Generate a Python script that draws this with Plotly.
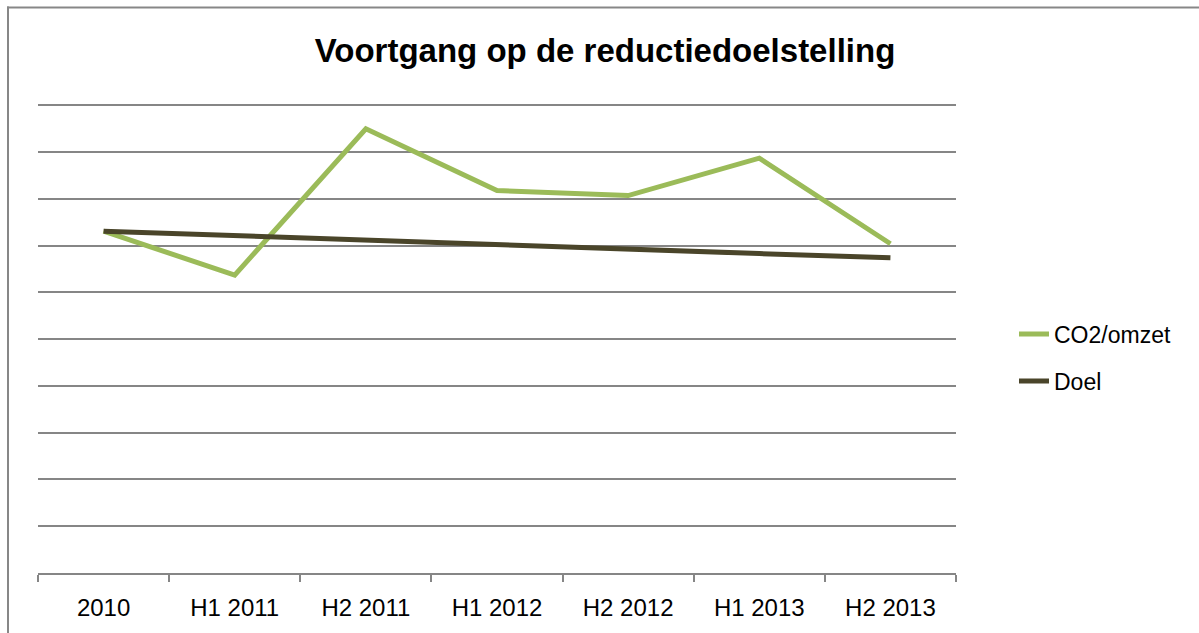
import plotly.graph_objects as go

categories = ["2010", "H1 2011", "H2 2011", "H1 2012", "H2 2012", "H1 2013", "H2 2013"]
co2_omzet = [7.31, 6.37, 9.50, 8.18, 8.07, 8.87, 7.04]
doel = [7.31, 7.21, 7.12, 7.02, 6.93, 6.83, 6.74]

W, H = 1199, 633
YMAX = 10.2
# target screen coords: axis bottom at 573, value 10 at 105
UNIT = (573 - 105) / 10.0
SX0, SX1, SY1 = 38, 956, 573
SY0 = SY1 - YMAX * UNIT
L, T = SX0, SY0
R, B = W - SX1, H - SY1
pw, ph = SX1 - SX0, SY1 - SY0


def px_x(x):
    return (x - SX0) / pw


def px_y(y):
    return (SY1 - y) / ph


border = dict(color="#878787", width=2)

fig = go.Figure()
fig.add_trace(go.Scatter(x=categories, y=co2_omzet, mode="lines", name="CO2/omzet",
                         line=dict(color="#9BBB59", width=5), legendgroup="a"))
fig.add_trace(go.Scatter(x=categories, y=doel, mode="lines", name="Doel",
                         line=dict(color="#4A452A", width=5), legendgroup="b"))

fig.update_layout(
    width=W, height=H,
    margin=dict(l=L, r=R, t=T, b=B),
    paper_bgcolor="white", plot_bgcolor="white",
    font=dict(family="Liberation Sans, Arial, sans-serif", color="black"),
    title=dict(text="<b>Voortgang op de reductiedoelstelling</b>", x=605 / W, xref="container",
               xanchor="center", y=1 - 50 / H, yref="container", yanchor="middle",
               font=dict(size=33, color="black")),
    xaxis=dict(type="category", range=[-0.5, 6.5], showgrid=False, showline=True,
               linecolor="#868686", linewidth=1.5, ticks="outside", tickson="boundaries",
               ticklen=7, tickcolor="#868686", tickwidth=1.5, ticklabelstandoff=12,
               tickfont=dict(size=24, color="black")),
    yaxis=dict(range=[0, YMAX], tickvals=list(range(0, 11)), showgrid=True, gridcolor="#868686",
               gridwidth=1.5, zeroline=False, showticklabels=False, ticks=""),
    legend=dict(x=px_x(1014), xanchor="left", y=px_y(357.5), yanchor="middle",
                font=dict(size=23, color="black"), tracegroupgap=14, bgcolor="rgba(0,0,0,0)"),
    shapes=[
        dict(type="line", xref="paper", yref="paper", x0=px_x(7), x1=px_x(1199),
             y0=px_y(7), y1=px_y(7), line=border, layer="above"),
        dict(type="line", xref="paper", yref="paper", x0=px_x(8), x1=px_x(8),
             y0=px_y(6), y1=px_y(633), line=border, layer="above"),
    ],
)

fig.write_html("out.html", config={"displayModeBar": False},
               post_script="document.body.style.margin='0';document.body.style.overflow='hidden';")
